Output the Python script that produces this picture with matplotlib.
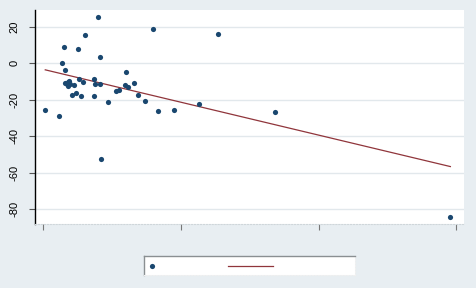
import numpy as np
import matplotlib
matplotlib.use("Agg")
import matplotlib.pyplot as plt

# data
x_vals = [1.45, 11.2, 13.6, 15.0, 16.0, 15.8, 17.0, 17.9, 18.9, 20.6, 22.1, 23.7,
          25.2, 26.1, 27.2, 28.8, 30.1, 36.6, 36.8, 37.8, 39.9, 41.4, 41.2, 41.9,
          46.8, 52.6, 55.2, 59.3, 60.3, 61.5, 65.9, 68.6, 73.9, 79.7, 83.5, 94.7,
          113.1, 127.1, 168.3, 295.6, 17.7, 19.6]
y_vals = [-25.8, -28.8, 0.0, 8.8, -3.7, -10.7, -11.4, -10.1, -9.6, -17.3, -11.8, -16.5,
          8.0, -8.6, -17.8, -10.1, 15.6, -8.6, -17.8, -11.5, 25.6, 3.6, -11.4, -52.6,
          -21.1, -15.2, -14.5, -12.1, -4.9, -13.2, -11.0, -17.3, -20.7, 18.7, -26.2, -25.8,
          -22.5, 15.9, -26.9, -84.6, -12.5, -11.5]
y_ticks = [20, 0, -20, -40, -60, -80]
x_ticks = [0, 100, 200, 300]

BG = "#e8eef2"
NAVY = "#1a476f"
MAROON = "#90353b"
GRID = "#e2e8ec"

plt.rcParams['font.family'] = ['Liberation Sans', 'DejaVu Sans']

fig = plt.figure(figsize=(4.76, 2.88), dpi=100, facecolor=BG)
ax = fig.add_axes([35/476, 1 - 224/288, (464-35)/476, (224-10)/288])
ax.set_facecolor("white")

xa = np.array(x_vals)
ya = np.array(y_vals)
slope, intercept = np.polyfit(xa, ya, 1)
fx = np.array([xa.min(), xa.max()])
ax.plot(fx, intercept + slope * fx, color=MAROON, lw=0.9, zorder=2)
ax.scatter(xa, ya, s=14, color=NAVY, zorder=3, linewidths=0)

ax.set_xlim(-6.0, 305.5)
ax.set_ylim(-88.3, 29.3)
ax.set_yticks(y_ticks)
ax.set_yticklabels([str(v) for v in y_ticks], rotation=90, va='center', fontsize=8)
ax.set_xticks(x_ticks)
ax.set_xticklabels([])
ax.grid(axis='y', color=GRID, lw=1.0)
ax.set_axisbelow(True)
for s in ['top', 'right']:
    ax.spines[s].set_visible(False)
ax.spines['left'].set_color('black')
ax.spines['left'].set_linewidth(1.0)
ax.spines['bottom'].set_color('#cfd6da')
ax.spines['bottom'].set_linestyle(':')
ax.spines['bottom'].set_linewidth(0.8)
ax.tick_params(axis='y', length=4, width=0.8, color='#555555', pad=7)
ax.tick_params(axis='x', length=4, width=0.8, color='#777777', direction='out', pad=2)

# legend box (empty labels)
lax = fig.add_axes([144/476, 1 - 275/288, (355-144)/476, (275-256)/288])
lax.set_xlim(0, 211)
lax.set_ylim(0, 19)
lax.set_facecolor('white')
lax.set_xticks([])
lax.set_yticks([])
for s in ['right', 'bottom']:
    lax.spines[s].set_color('#f0f0f0')
    lax.spines[s].set_linestyle(':')
for s in ['top', 'left']:
    lax.spines[s].set_color('#8a8f92')
    lax.spines[s].set_linewidth(1.0)
lax.scatter([8], [9.5], s=14, color=NAVY, linewidths=0)
lax.plot([84, 129], [9.5, 9.5], color=MAROON, lw=0.9)

fig.savefig("out.png", dpi=100, facecolor=BG)
